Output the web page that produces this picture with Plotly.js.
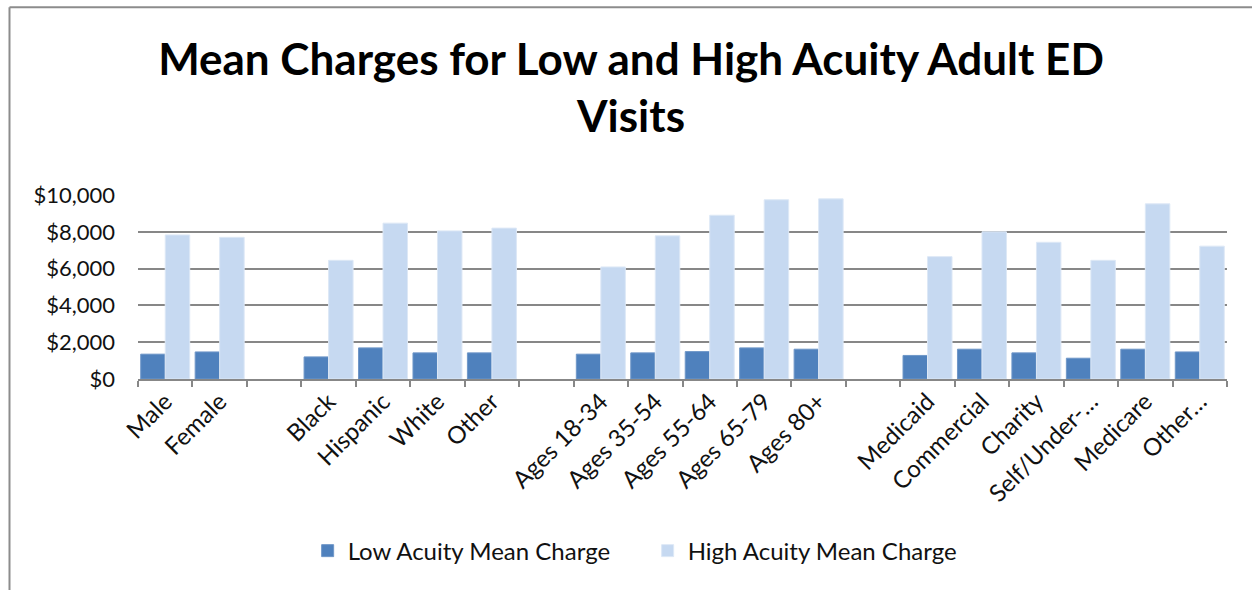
<!DOCTYPE html>
<html>
<head>
<meta charset="utf-8">
<script src="https://cdn.plot.ly/plotly-3.0.1.min.js"></script>
<style>
  html, body { margin: 0; padding: 0; background: #ffffff; }
  #chart { width: 1252px; height: 590px; }
</style>
</head>
<body>
<div id="chart"></div>
<script>
// Groups are separated by empty spacer categories (distinct blank keys, no bars).
const categories = [
  "Male", "Female", "gap1",
  "Black", "Hispanic", "White", "Other", "gap2",
  "Ages 18-34", "Ages 35-54", "Ages 55-64", "Ages 65-79", "Ages 80+", "gap3",
  "Medicaid", "Commercial", "Charity", "Self/Under-...", "Medicare", "Other..."
];
const tickLabels = [
  "Male", "Female", "",
  "Black", "Hispanic", "White", "Other", "",
  "Ages 18-34", "Ages 35-54", "Ages 55-64", "Ages 65-79", "Ages 80+", "",
  "Medicaid", "Commercial", "Charity", "Self/Under-…", "Medicare", "Other…"
];
const lowAcuity = [
  1350, 1470, null,
  1200, 1690, 1420, 1420, null,
  1350, 1420, 1490, 1690, 1620, null,
  1280, 1620, 1420, 1130, 1620, 1470
];
const highAcuity = [
  7830, 7700, null,
  6450, 8470, 8050, 8200, null,
  6090, 7780, 8900, 9740, 9790, null,
  6650, 8000, 7430, 6450, 9520, 7220
];
const yTicks = [0, 2000, 4000, 6000, 8000, 10000];
const yTickLabels = ["$0", "$2,000", "$4,000", "$6,000", "$8,000", "$10,000"];

const font = "Lato, 'Open Sans', 'Noto Sans', sans-serif";

const traces = [
  {
    type: "bar", name: "Low Acuity Mean Charge",
    x: categories, y: lowAcuity,
    marker: { color: "#4F81BD", line: { color: "#6f97c8", width: 1 } },
    hoverinfo: "x+y"
  },
  {
    type: "bar", name: "High Acuity Mean Charge",
    x: categories, y: highAcuity,
    marker: { color: "#C6D9F1", line: { color: "#dde8f6", width: 1 } },
    hoverinfo: "x+y"
  }
];

const layout = {
  width: 1252, height: 590,
  paper_bgcolor: "#ffffff", plot_bgcolor: "#ffffff",
  margin: { l: 138, r: 25, t: 195, b: 211 },
  barmode: "group", bargap: 0.1, bargroupgap: 0,
  showlegend: true,
  title: {
    text: "Mean Charges for Low and High Acuity Adult ED<br>Visits",
    font: { family: font, size: 44, color: "#000000", weight: 700 },
    x: 0.504, xanchor: "center", yref: "container", y: 0.873, yanchor: "top"
  },
  xaxis: {
    type: "category",
    tickmode: "array", tickvals: categories, ticktext: tickLabels,
    tickangle: -45,
    tickson: "boundaries",
    ticks: "outside", ticklen: 6, tickwidth: 2, tickcolor: "#878787",
    showline: true, linecolor: "#878787", linewidth: 2,
    showgrid: false, zeroline: false,
    ticklabelstandoff: -3,
    tickfont: { family: font, size: 24, color: "#111111" },
    fixedrange: true
  },
  yaxis: {
    range: [0, 10000],
    tickmode: "array", tickvals: yTicks, ticktext: yTickLabels,
    showgrid: true, gridcolor: "#878787", gridwidth: 2,
    zeroline: false, showline: false, ticks: "",
    ticklabelstandoff: 22,
    tickfont: { family: font, size: 22, color: "#111111" },
    fixedrange: true
  },
  legend: {
    orientation: "h", x: 0.468, xanchor: "center", y: -0.935, yanchor: "middle",
    font: { family: font, size: 24, color: "#111111" },
    itemwidth: 30, entrywidth: 295, traceorder: "normal"
  },
  shapes: [
    { type: "line", xref: "paper", yref: "paper", x0: -0.118, x1: 1.03, y0: 2.02, y1: 2.02,
      line: { color: "#8c8c8c", width: 2 } },
    { type: "line", xref: "paper", yref: "paper", x0: -0.118, x1: -0.118, y0: 2.02, y1: -1.2,
      line: { color: "#8c8c8c", width: 2 } }
  ]
};

Plotly.newPlot("chart", traces, layout, { displayModeBar: false, staticPlot: true });
</script>
</body>
</html>
